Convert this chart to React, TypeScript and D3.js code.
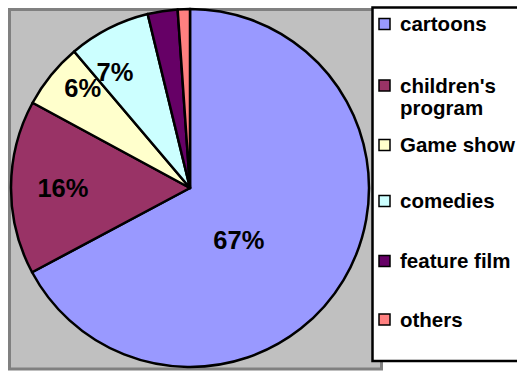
import React from "react";
import * as d3 from "d3";

const categories = ["cartoons", "children's program", "Game show", "comedies", "feature film", "others"];
const values = [67.2, 15.7, 5.9, 7.4, 2.7, 1.1];
const colors = ["#9999FF", "#993366", "#FFFFCC", "#CCFFFF", "#660066", "#FF8080"];
const labelTexts = ["67%", "16%", "6%", "7%", "", ""];
const legendLines = [["cartoons"], ["children's", "program"], ["Game show"], ["comedies"], ["feature film"], ["others"]];

// layout (not data)
const W = 517, H = 371;
const cx = 190, cy = 188, R = 179;
const labelPlace = [
  { rf: 0.4, shift: 16 },
  { rf: 0.71, shift: 0 },
  { rf: 0.82, shift: 4 },
  { rf: 0.77, shift: -6 },
  { rf: 0.7, shift: 0 },
  { rf: 0.7, shift: 0 },
];
const legendY = [24, 85.5, 145, 201, 261, 319.5];

export default function App() {
  const pie = d3.pie<number>().value((d) => d).sort(null).startAngle(0).endAngle(2 * Math.PI);
  const arcs = pie(values);
  const arc = d3.arc<d3.PieArcDatum<number>>().innerRadius(0).outerRadius(R);
  const font = "'Liberation Sans', Arial, sans-serif";
  return (
    <svg width={W} height={H} style={{ position: "absolute", left: 0, top: 0 }} fontFamily={font}>
      <rect x={0} y={0} width={W} height={H} fill="#ffffff" />
      <rect x={9.5} y={9.5} width={372} height={359.5} fill="#C0C0C0" stroke="#808080" strokeWidth={3} />
      <g transform={`translate(${cx},${cy})`}>
        {arcs.map((a, i) => (
          <path key={i} d={arc(a) || ""} fill={colors[i]} stroke="#000" strokeWidth={2.5} strokeLinejoin="round" />
        ))}
        {arcs.map((a, i) => {
          if (!labelTexts[i]) return null;
          const mid = (a.startAngle + a.endAngle) / 2 + (labelPlace[i].shift * Math.PI) / 180;
          const r = labelPlace[i].rf * R;
          const x = Math.sin(mid) * r;
          const y = -Math.cos(mid) * r;
          return (
            <text key={"l" + i} x={x} y={y} textAnchor="middle" dominantBaseline="central" fontWeight="bold" fontSize={25.5} fill="#000">
              {labelTexts[i]}
            </text>
          );
        })}
      </g>
      <rect x={372.5} y={7.5} width={160} height={353.5} fill="#ffffff" stroke="#000" strokeWidth={2.5} />
      {categories.map((c, i) => (
        <g key={c}>
          <rect x={379} y={legendY[i] - 5.5} width={11} height={11} fill={colors[i]} stroke="#000" strokeWidth={1.5} />
          {legendLines[i].map((line, j) => (
            <text key={j} x={400} y={legendY[i] + 7 + j * 22.5} fontWeight="bold" fontSize={20.5} fill="#000">
              {line}
            </text>
          ))}
        </g>
      ))}
    </svg>
  );
}
